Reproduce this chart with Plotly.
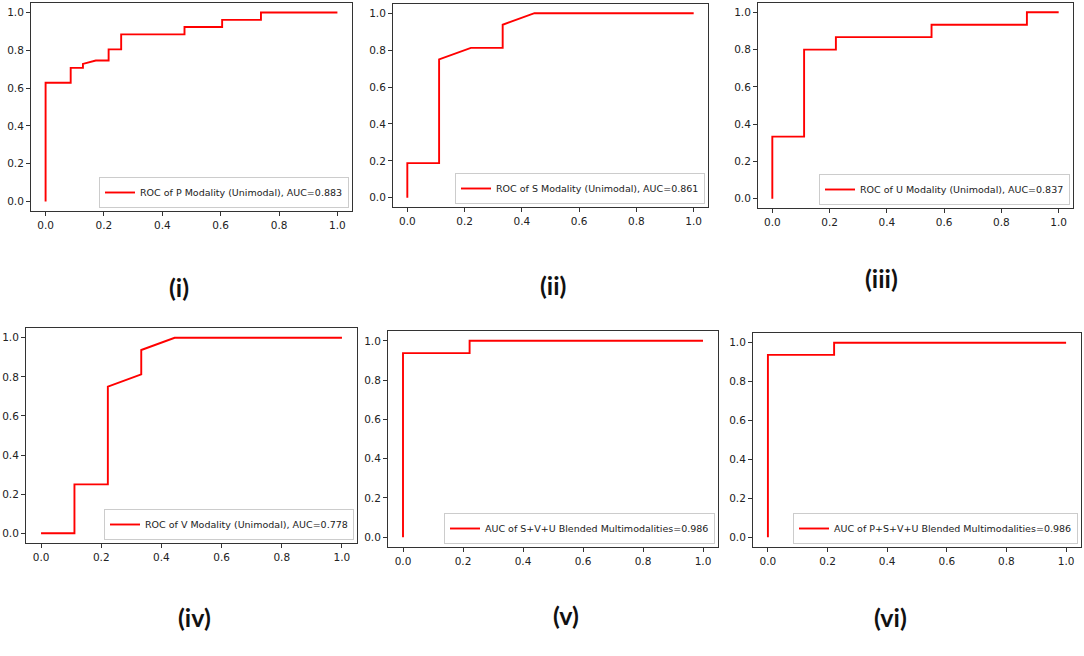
import plotly.graph_objects as go

W, H = 1084, 656

# ---- data (FPR, TPR) ----
p_fpr = [0.0, 0.0, 0.086, 0.086, 0.128, 0.128, 0.172, 0.216, 0.216, 0.259, 0.259, 0.476, 0.476, 0.605, 0.605, 0.738, 0.738, 1.0]
p_tpr = [0.0, 0.628, 0.628, 0.707, 0.707, 0.728, 0.746, 0.746, 0.805, 0.805, 0.884, 0.884, 0.923, 0.923, 0.961, 0.961, 1.0, 1.0]

s_fpr = [0.0, 0.0, 0.111, 0.111, 0.222, 0.333, 0.333, 0.444, 1.0]
s_tpr = [0.0, 0.1875, 0.1875, 0.75, 0.8125, 0.8125, 0.9375, 1.0, 1.0]

u_fpr = [0.0, 0.0, 0.111, 0.111, 0.222, 0.222, 0.556, 0.556, 0.889, 0.889, 1.0]
u_tpr = [0.0, 0.333, 0.333, 0.8, 0.8, 0.867, 0.867, 0.933, 0.933, 1.0, 1.0]

v_fpr = [0.0, 0.111, 0.111, 0.222, 0.222, 0.333, 0.333, 0.444, 1.0]
v_tpr = [0.0, 0.0, 0.25, 0.25, 0.75, 0.8125, 0.9375, 1.0, 1.0]

svu_fpr = [0.0, 0.0, 0.222, 0.222, 1.0]
svu_tpr = [0.0, 0.9375, 0.9375, 1.0, 1.0]

psvu_fpr = [0.0, 0.0, 0.222, 0.222, 1.0]
psvu_tpr = [0.0, 0.9375, 0.9375, 1.0, 1.0]

names = [
    "ROC of P Modality (Unimodal), AUC=0.883",
    "ROC of S Modality (Unimodal), AUC=0.861",
    "ROC of U Modality (Unimodal), AUC=0.837",
    "ROC of V Modality (Unimodal), AUC=0.778",
    "AUC of S+V+U Blended Multimodalities=0.986",
    "AUC of P+S+V+U Blended Multimodalities=0.986",
]
panel_labels = ["(i)", "(ii)", "(iii)", "(iv)", "(v)", "(vi)"]
tick_vals = [0.0, 0.2, 0.4, 0.6, 0.8, 1.0]
tick_text = ["0.0", "0.2", "0.4", "0.6", "0.8", "1.0"]

series = [(p_fpr, p_tpr), (s_fpr, s_tpr), (u_fpr, u_tpr),
          (v_fpr, v_tpr), (svu_fpr, svu_tpr), (psvu_fpr, psvu_tpr)]

# ---- layout (pixel frames: left, top, right, bottom) ----
frames = [(31, 3, 352, 211), (393, 4, 708, 207), (758, 3, 1073, 208),
          (26, 328, 357, 543), (388, 331, 718, 547), (753, 333, 1081, 547)]
label_pos = [(167, 287), (553, 285), (900, 278), (176, 634), (566, 632), (909, 634)]

fig = go.Figure()
layout = dict(width=W, height=H, margin=dict(l=0, r=0, t=0, b=0),
              paper_bgcolor="white", plot_bgcolor="white", showlegend=True,
              font=dict(family="DejaVu Sans", color="#222"))
annotations = []
for i, ((fx, fy), nm, fr) in enumerate(zip(series, names, frames)):
    k = "" if i == 0 else str(i + 1)
    lg = "legend" if i == 0 else "legend" + str(i + 1)
    fig.add_trace(go.Scatter(x=fx, y=fy, mode="lines", name=nm,
                             line=dict(color="#ff0000", width=1.9),
                             xaxis="x" + k, yaxis="y" + k, legend=lg))
    l, t, r, b = fr
    ax = dict(range=[-0.05, 1.05], showgrid=False, zeroline=False, showline=True,
              mirror=True, linecolor="#333", linewidth=1, ticks="outside",
              ticklen=4, tickcolor="#333", tickvals=tick_vals, ticktext=tick_text,
              tickfont=dict(size=10.5, family="DejaVu Sans", color="#222"))
    layout["xaxis" + k] = dict(ax, domain=[l / W, r / W], anchor="y" + k)
    layout["yaxis" + k] = dict(ax, domain=[1 - b / H, 1 - t / H], anchor="x" + k)
    layout[lg] = dict(x=(r - 3) / W, y=1 - (b - 3) / H, xanchor="right", yanchor="bottom",
                      xref="paper", yref="paper",
                      bgcolor="white", bordercolor="#cccccc", borderwidth=1,
                      font=dict(size=9.5, family="DejaVu Sans", color="#222"),
                      itemwidth=30, tracegroupgap=0)
    lx, ly = label_pos[i]
    annotations.append(dict(x=lx / W, y=1 - ly / H, xref="paper", yref="paper",
                            text="<b>" + panel_labels[i] + "</b>", showarrow=False,
                            font=dict(size=25, family="Lato", color="#111")))
layout["annotations"] = annotations
fig.update_layout(**layout)
fig.write_html("out.html", config={"displayModeBar": False},
               post_script="document.body.style.margin='0';document.body.style.overflow='hidden';")
